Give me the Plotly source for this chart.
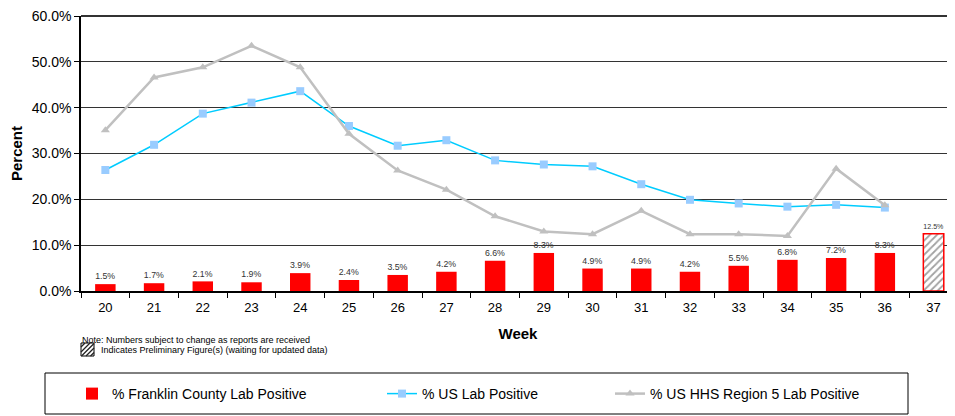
"""
Percent lab positive by week: Franklin County vs US vs HHS Region 5
"""
import plotly.graph_objects as go

# --- data -------------------------------------------------------------
weeks = ["20", "21", "22", "23", "24", "25", "26", "27", "28",
         "29", "30", "31", "32", "33", "34", "35", "36", "37"]

franklin = [1.5, 1.7, 2.1, 1.9, 3.9, 2.4, 3.5, 4.2, 6.6,
            8.3, 4.9, 4.9, 4.2, 5.5, 6.8, 7.2, 8.3, 12.5]
preliminary = [False] * 17 + [True]

us_weeks = weeks[:17]
us_pos = [26.4, 31.9, 38.7, 41.1, 43.6, 36.0, 31.7, 32.9, 28.5,
          27.6, 27.2, 23.3, 19.9, 19.1, 18.4, 18.8, 18.2]

hhs_weeks = weeks[:17]
hhs_pos = [35.1, 46.6, 48.8, 53.5, 48.8, 34.3, 26.3, 22.1, 16.3,
           13.0, 12.4, 17.5, 12.4, 12.4, 12.0, 26.7, 18.7]

y_ticks = [0, 10, 20, 30, 40, 50, 60]

FONT = "Arial, Liberation Sans, sans-serif"

# page has an 8px body margin -> figure drawn offset by 8px
OFF = 8
W, H = 955 - OFF, 416 - OFF
# plot area in page px (top kept a little lower so the 60% label is not cut)
L, R, T, B = 81, 955, 16, 291


def px_x(px):
    return (px - L) / (R - L)


def px_y(py):
    return (B - py) / (B - T)


fig = go.Figure()

# bars - last one preliminary (hatched)
fig.add_trace(go.Bar(
    x=weeks,
    y=franklin,
    name="% Franklin County Lab Positive",
    width=0.42,
    marker=dict(
        color=["white" if p else "#FF0000" for p in preliminary],
        line=dict(color="#FF0000", width=[1.5 if p else 0 for p in preliminary]),
        pattern=dict(
            shape=["/" if p else "" for p in preliminary],
            fgcolor="#555555",
            bgcolor="white",
            size=5,
            solidity=0.35,
        ),
    ),
    text=[f"{v:.1f}%" for v in franklin],
    textposition="outside",
    textfont=dict(size=9.5, color="#333333", family=FONT),
    cliponaxis=False,
    legend="legend",
))

fig.add_trace(go.Scatter(
    x=us_weeks,
    y=us_pos,
    name="% US Lab Positive",
    mode="lines+markers",
    line=dict(color="#00CCFF", width=1.5),
    marker=dict(symbol="square", size=8, color="#99CCFF"),
    legend="legend2",
))

fig.add_trace(go.Scatter(
    x=hhs_weeks,
    y=hhs_pos,
    name="% US HHS Region 5 Lab Positive",
    mode="lines+markers",
    line=dict(color="#C0C0C0", width=2.5),
    marker=dict(symbol="triangle-up", size=8, color="#C0C0C0"),
    legend="legend3",
))

legend_common = dict(
    orientation="h",
    yanchor="middle",
    y=px_y(394),
    xanchor="left",
    font=dict(size=14, color="black", family=FONT),
    bgcolor="rgba(0,0,0,0)",
    borderwidth=0,
)

shapes = [
    # legend frame
    dict(type="rect", xref="paper", yref="paper",
         x0=px_x(45), x1=px_x(908), y0=px_y(373), y1=px_y(414),
         line=dict(color="black", width=1), fillcolor="white", layer="below"),
    # preliminary icon
    dict(type="rect", xref="paper", yref="paper",
         x0=px_x(81), x1=px_x(94), y0=px_y(356), y1=px_y(343),
         line=dict(color="black", width=1), fillcolor="white"),
    # top border of the plot area (60% line)
    dict(type="line", xref="paper", yref="paper", layer="above",
         x0=0, x1=1, y0=1, y1=1,
         line=dict(color="#333333", width=2)),
]
# hatch strokes inside the icon
for a, b in (((81, 347), (85, 343)), ((81, 352), (90, 343)),
             ((81.5, 356), (94, 343.5)), ((86, 356), (94, 348)),
             ((90.5, 356), (94, 352.5))):
    shapes.append(dict(type="line", xref="paper", yref="paper",
                       x0=px_x(a[0]), y0=px_y(a[1]),
                       x1=px_x(b[0]), y1=px_y(b[1]),
                       line=dict(color="#222222", width=1.3)))

fig.update_layout(
    width=W,
    height=H,
    margin=dict(l=L - OFF, r=955 - R, t=T - OFF, b=416 - B, autoexpand=False),
    paper_bgcolor="white",
    plot_bgcolor="white",
    font=dict(family=FONT, color="black"),
    showlegend=True,
    legend=dict(legend_common, x=px_x(72)),
    legend2=dict(legend_common, x=px_x(382)),
    legend3=dict(legend_common, x=px_x(610)),
    xaxis=dict(
        type="category",
        range=[-0.5, 17.44],
        tickson="boundaries",
        ticks="outside",
        ticklen=5,
        tickcolor="black",
        showline=True,
        linecolor="black",
        linewidth=1.5,
        showgrid=False,
        automargin=False,
        ticklabelstandoff=4,
        tickfont=dict(size=13, family=FONT, color="black"),
        title=dict(text="<b>Week</b>", font=dict(size=15, family=FONT), standoff=14),
    ),
    yaxis=dict(
        range=[0, 60],
        tickvals=y_ticks,
        ticktext=[f"{v:.1f}%" for v in y_ticks],
        ticks="outside",
        ticklen=5,
        tickcolor="black",
        ticklabeloverflow="allow",
        showline=True,
        linecolor="black",
        linewidth=1.5,
        showgrid=True,
        gridcolor="#333333",
        gridwidth=1,
        zeroline=False,
        automargin=False,
        tickfont=dict(size=14, family=FONT, color="black"),
        title=dict(text="<b>Percent</b>", font=dict(size=15, family=FONT), standoff=8),
    ),
    shapes=shapes,
    annotations=[
        dict(text="Note: Numbers subject to change as reports are received",
             xref="paper", yref="paper", x=px_x(80), y=px_y(340),
             xanchor="left", yanchor="middle", showarrow=False,
             font=dict(size=9, family=FONT, color="black")),
        dict(text="Indicates Preliminary Figure(s) (waiting for updated data)",
             xref="paper", yref="paper", x=px_x(99), y=px_y(350),
             xanchor="left", yanchor="middle", showarrow=False,
             font=dict(size=9, family=FONT, color="black")),
    ],
)

fig.write_html("out.html")
